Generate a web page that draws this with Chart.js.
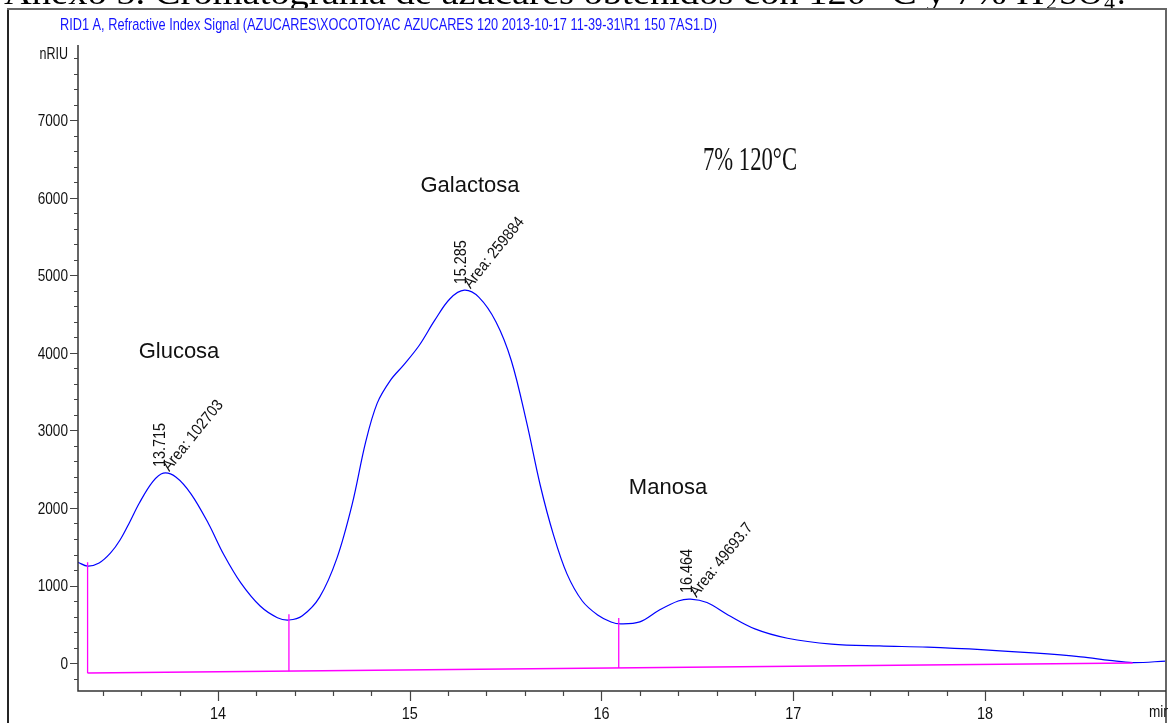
<!DOCTYPE html>
<html>
<head>
<meta charset="utf-8">
<script src="https://cdn.jsdelivr.net/npm/chart.js@4.4.0/dist/chart.umd.min.js"></script>
<style>
  html, body { margin: 0; padding: 0; background: #fff; }
  canvas { display: block; }
</style>
</head>
<body>
<canvas id="chrom" width="1168" height="723"></canvas>
<script>
// retention time (min) and RID signal (nRIU)
const times = [13.27, 13.32, 13.38, 13.44, 13.49, 13.54, 13.59, 13.66, 13.715, 13.78, 13.86, 13.95, 14.03, 14.12, 14.22, 14.31, 14.37,
  14.44, 14.53, 14.62, 14.70, 14.77, 14.83, 14.90, 14.97, 15.05, 15.13, 15.21, 15.285, 15.36, 15.45, 15.53, 15.61, 15.68,
  15.75, 15.82, 15.90, 15.98, 16.05, 16.1, 16.2, 16.3, 16.4, 16.464, 16.55, 16.66, 16.8, 16.97, 17.2, 17.45, 17.7, 18.0,
  18.25, 18.5, 18.65, 18.77, 18.944];
const signal = [1300, 1250, 1290, 1420, 1590, 1820, 2065, 2340, 2450, 2400, 2180, 1800, 1400, 1030, 735, 585, 555,
  610, 850, 1350, 2050, 2850, 3350, 3650, 3850, 4100, 4420, 4700, 4810, 4720, 4400, 3900, 3100, 2300,
  1650, 1150, 800, 620, 530, 505, 530, 680, 800, 825, 780, 620, 440, 320, 245, 220, 205, 170,
  130, 80, 35, 5, 25];

// integration baseline (start, end)
const baseTimes = [13.32, 18.77];
const baseValues = [-130, 0];

// peak start/stop drop lines
const dropTimes = [13.32, 14.37, 16.09];
const dropTops = [1300, 630, 580];

// peaks
const peakNames = ['Glucosa', 'Galactosa', 'Manosa'];
const peakTimes = [13.715, 15.285, 16.464];
const peakHeights = [2450, 4810, 825];
const peakAreas = ['102703', '259884', '49693.7'];

const xTicks = [14, 15, 16, 17, 18];
const yTicks = [0, 1000, 2000, 3000, 4000, 5000, 6000, 7000];

const title = 'RID1 A, Refractive Index Signal (AZUCARES\\XOCOTOYAC AZUCARES 120 2013-10-17 11-39-31\\R1 150 7AS1.D)';

function pairs(xs, ys) {
  return xs.map((x, i) => ({ x: x, y: ys[i] }));
}

const drops = dropTimes.map((t, i) => ({
  data: [{ x: t, y: baseValues[0] + (baseValues[1] - baseValues[0]) * (t - baseTimes[0]) / (baseTimes[1] - baseTimes[0]) }, { x: t, y: dropTops[i] }],
  borderColor: '#ff00ff', borderWidth: 1.3, showLine: true, pointRadius: 0
}));

// text squeezed horizontally, like the ChemStation print
function narrow(ctx, text, x, y, font, sx, align) {
  ctx.save();
  ctx.font = font;
  ctx.textAlign = align || 'left';
  ctx.translate(x, y);
  ctx.scale(sx, 1);
  ctx.fillText(text, 0, 0);
  ctx.restore();
}

function fitText(ctx, text, x, y, w, font) {
  ctx.save();
  ctx.font = font;
  const m = ctx.measureText(text).width;
  ctx.translate(x, y);
  ctx.scale(w / m, 1);
  ctx.textAlign = 'left';
  ctx.fillText(text, 0, 0);
  ctx.restore();
}

const decor = {
  id: 'decor',
  beforeDraw(chart) {
    const ctx = chart.ctx;
    ctx.save();
    ctx.fillStyle = '#fff';
    ctx.fillRect(0, 0, chart.width, chart.height);
    ctx.restore();
  },
  afterDraw(chart) {
    const ctx = chart.ctx;
    const xs = chart.scales.x, ys = chart.scales.y;
    const a = chart.chartArea;
    ctx.save();

    // caption of the document, cut off at the top
    ctx.fillStyle = '#000';
    ctx.textBaseline = 'alphabetic';
    fitText(ctx, 'Anexo 5. Cromatograma de azúcares obtenidos con 120 °C y 7% H', 4, 4, 1040, '34px "Liberation Serif"');
    ctx.font = '22px "Liberation Serif"';
    ctx.fillText('2', 1046, 9);
    ctx.font = '34px "Liberation Serif"';
    ctx.fillText('SO', 1059, 4);
    ctx.font = '22px "Liberation Serif"';
    ctx.fillText('4', 1104, 9);
    ctx.font = '34px "Liberation Serif"';
    ctx.fillText('.', 1117, 4);

    // frame
    ctx.fillStyle = '#fff';
    ctx.fillRect(8, 10, 1158, 12);
    ctx.lineWidth = 2;
    ctx.strokeStyle = '#666';
    ctx.beginPath();
    ctx.moveTo(8, 730); ctx.lineTo(8, 9); ctx.lineTo(1166, 9); ctx.lineTo(1166, 730);
    ctx.stroke();
    ctx.strokeStyle = '#111';
    ctx.lineWidth = 1.5;
    ctx.beginPath(); ctx.moveTo(8, 10); ctx.lineTo(8, 730); ctx.stroke();

    // signal title
    ctx.fillStyle = '#1414ff';
    ctx.textBaseline = 'middle';
    fitText(ctx, title, 60, 25, 657, '17px "Liberation Sans"');

    // axes
    ctx.strokeStyle = '#333';
    ctx.lineWidth = 1.5;
    ctx.beginPath();
    ctx.moveTo(a.left, a.top - 8); ctx.lineTo(a.left, a.bottom); ctx.lineTo(a.right, a.bottom);
    ctx.stroke();

    ctx.strokeStyle = '#444';
    ctx.lineWidth = 1.2;
    ctx.beginPath();
    for (let v = -200; v <= ys.max; v += 200) {
      const py = Math.round(ys.getPixelForValue(v)) + 0.5;
      const len = v % 1000 === 0 ? 8 : 4;
      ctx.moveTo(a.left - len, py); ctx.lineTo(a.left, py);
    }
    for (let k = Math.ceil(xs.min * 5); k <= xs.max * 5; k++) {
      const px = Math.round(xs.getPixelForValue(k / 5)) + 0.5;
      const len = k % 5 === 0 ? 10 : 5;
      ctx.moveTo(px, a.bottom); ctx.lineTo(px, a.bottom + len);
    }
    ctx.stroke();

    ctx.fillStyle = '#111';
    ctx.textBaseline = 'middle';
    yTicks.forEach(v => narrow(ctx, String(v), 68, ys.getPixelForValue(v) + 1, '17px "Liberation Sans"', 0.8, 'right'));
    narrow(ctx, 'nRIU', 68, 55, '16px "Liberation Sans"', 0.78, 'right');
    xTicks.forEach(v => narrow(ctx, String(v), xs.getPixelForValue(v), 714, '17px "Liberation Sans"', 0.85, 'center'));
    narrow(ctx, 'min', 1149, 713, '16px "Liberation Sans"', 0.85, 'left');

    // peak annotations
    ctx.textBaseline = 'alphabetic';
    peakTimes.forEach((t, i) => {
      const px = xs.getPixelForValue(t), py = ys.getPixelForValue(peakHeights[i]);
      ctx.save();
      ctx.translate(px + 2, py - 6);
      ctx.rotate(-Math.PI / 2);
      ctx.scale(0.9, 1);
      ctx.font = '16px "Liberation Sans"';
      ctx.fillText(t.toFixed(3), 0, 0);
      ctx.restore();
      ctx.save();
      ctx.translate(px + 6, py - 1);
      ctx.rotate(-51 * Math.PI / 180);
      ctx.scale(0.9, 1);
      ctx.font = '16px "Liberation Sans"';
      ctx.fillText('Area: ' + peakAreas[i], 0, 0);
      ctx.restore();
    });

    ctx.font = '22px "Liberation Sans"';
    ctx.textAlign = 'center';
    ctx.textBaseline = 'middle';
    ctx.fillText(peakNames[0], 179, 352);
    ctx.fillText(peakNames[1], 470, 186);
    ctx.fillText(peakNames[2], 668, 488);

    ctx.textBaseline = 'alphabetic';
    fitText(ctx, '7% 120°C', 703, 170, 94, '33px "Liberation Serif"');

    ctx.restore();
  }
};

new Chart(document.getElementById('chrom'), {
  type: 'scatter',
  data: {
    datasets: [
      { data: pairs(baseTimes, baseValues), borderColor: '#ff00ff', borderWidth: 1.5, showLine: true, pointRadius: 0 },
      ...drops,
      { data: pairs(times, signal), borderColor: '#0000ff', borderWidth: 1.2, showLine: true, pointRadius: 0,
        tension: 0.35 }
    ]
  },
  options: {
    responsive: false,
    devicePixelRatio: 1,
    animation: false,
    layout: { padding: { left: 78, right: 2, top: 53, bottom: 32 } },
    plugins: { legend: { display: false }, tooltip: { enabled: false } },
    scales: {
      x: { type: 'linear', min: 13.27, max: 18.944, display: false },
      y: { type: 'linear', min: -361, max: 7870, display: false }
    }
  },
  plugins: [decor]
});
</script>
</body>
</html>
